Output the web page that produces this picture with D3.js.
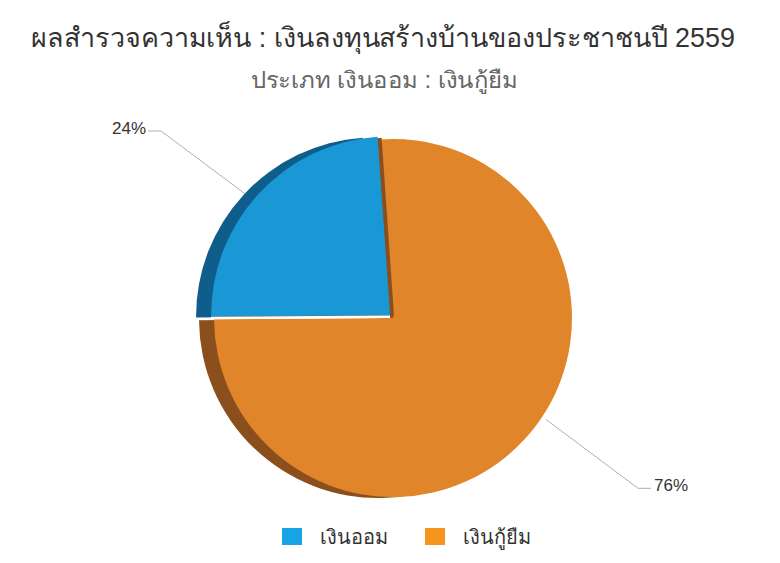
<!DOCTYPE html>
<html>
<head>
<meta charset="utf-8">
<script src="https://cdn.jsdelivr.net/npm/d3@7"></script>
<style>
  html, body { margin: 0; padding: 0; background: #fff; }
  svg { display: block; font-family: "Liberation Sans", "Noto Sans", sans-serif; }
</style>
</head>
<body>
<div class="chart"></div>
<script>
// data
const categories = ["เงินออม", "เงินกู้ยืม"];
const values = [24, 76];
const percentLabels = ["24%", "76%"];
const titleText = "ผลสำรวจความเห็น : เงินลงทุนสร้างบ้านของประชาชนปี 2559";
const subtitleText = "ประเภท เงินออม : เงินกู้ยืม";

const faceColors = ["#1a98d6", "#e0852a"];
const sideColors = ["#0f5d8a", "#8a4f1d"];
const legendColors = ["#16a4e4", "#f5951f"];

window.onload = function () {

const width = 780, height = 563;
const cx = 393, cy = 318, r = 179;
const depth = 15;            // left-side thickness
const explode = [4, 0];      // slice pulled out
const rad = Math.PI / 180;
const start = -90.4 * rad;

const svg = d3.select(".chart")
  .append("svg")
  .attr("width", width)
  .attr("height", height);

// Titles
svg.append("text")
  .attr("x", 383)
  .attr("y", 47)
  .attr("text-anchor", "middle")
  .attr("textLength", 704)
  .attr("lengthAdjust", "spacingAndGlyphs")
  .style("font-size", "27px")
  .style("fill", "#333")
  .text(titleText);

svg.append("text")
  .attr("x", 384)
  .attr("y", 88)
  .attr("text-anchor", "middle")
  .attr("textLength", 267)
  .attr("lengthAdjust", "spacingAndGlyphs")
  .style("font-size", "23px")
  .style("fill", "#666")
  .text(subtitleText);

const pie = d3.pie()
  .sort(null)
  .value(d => d)
  .startAngle(start)
  .endAngle(start + 2 * Math.PI);

const arcs = pie(values);
const arc = d3.arc().innerRadius(0).outerRadius(r);

const mid = d => (d.startAngle + d.endAngle) / 2;
const offset = (d, i) => {
  const a = mid(d);
  return [Math.sin(a) * explode[i], -Math.cos(a) * explode[i]];
};

const g = svg.append("g").attr("transform", `translate(${cx},${cy})`);

// Connectors (behind pie)
const labelShift = -6 * rad;
const labelCenter = [8, -7];
const connector = (d, i) => {
  const a = mid(d) + labelShift;
  const [ox, oy] = offset(d, i);
  const bx = ox + labelCenter[0], by = oy + labelCenter[1];
  const p0 = [bx + Math.sin(a) * (r + 2), by - Math.cos(a) * (r + 2)];
  const p1 = [bx + Math.sin(a) * (r + 117), by - Math.cos(a) * (r + 117)];
  const side = Math.sin(a) < 0 ? -1 : 1;
  const p2 = [p1[0] + side * 13, p1[1]];
  return [p0, p1, p2];
};

const labels = g.selectAll("g.label")
  .data(arcs)
  .enter()
  .append("g")
  .attr("class", "label");

labels.append("path")
  .attr("d", (d, i) => d3.line()(connector(d, i)))
  .attr("fill", "none")
  .attr("stroke", "#b0b0b0")
  .attr("stroke-width", 1);

labels.append("text")
  .attr("x", (d, i) => {
    const p = connector(d, i)[2];
    return p[0] + (p[0] < 0 ? -2 : 3);
  })
  .attr("y", (d, i) => connector(d, i)[2][1] + 3)
  .attr("text-anchor", (d, i) => connector(d, i)[2][0] < 0 ? "end" : "start")
  .style("font-size", "17px")
  .style("fill", "#333")
  .text((d, i) => percentLabels[i]);

// Draw orange first, blue on top
const order = [1, 0];
order.forEach(i => {
  const d = arcs[i];
  const [ox, oy] = offset(d, i);
  const s = g.append("g").attr("transform", `translate(${ox},${oy})`);

  // side / thickness
  s.append("path")
    .attr("d", arc(d))
    .attr("transform", `translate(${-depth},1)`)
    .attr("fill", sideColors[i]);

  if (i === 0) {
    // thin shade on the cut edge
    s.append("path")
      .attr("d", arc(d))
      .attr("transform", "translate(4,1)")
      .attr("fill", sideColors[1]);
  }

  s.append("path")
    .attr("d", arc(d))
    .attr("fill", faceColors[i]);
});

// white edge below the pulled-out slice
g.append("path")
  .attr("d", () => {
    const d = arcs[0];
    const [ox, oy] = offset(d, 0);
    const a = d.startAngle;
    return d3.line()([
      [ox + Math.sin(a) * r, oy - Math.cos(a) * r + 1.5],
      [ox, oy + 1.5]
    ]);
  })
  .attr("stroke", "#fff")
  .attr("stroke-width", 2.5)
  .attr("fill", "none");

// Legend
const legendX = d3.scaleBand()
  .domain(categories)
  .range([282, 568]);

const legend = svg.append("g")
  .selectAll("g")
  .data(categories)
  .enter()
  .append("g")
  .attr("transform", d => `translate(${legendX(d)},528)`);

legend.append("rect")
  .attr("width", 20)
  .attr("height", 17)
  .attr("fill", (d, i) => legendColors[i]);

legend.append("text")
  .attr("x", 38)
  .attr("y", 9)
  .attr("dy", "0.35em")
  .style("font-size", "20px")
  .style("fill", "#333")
  .text(d => d);

};
</script>
</body>
</html>
